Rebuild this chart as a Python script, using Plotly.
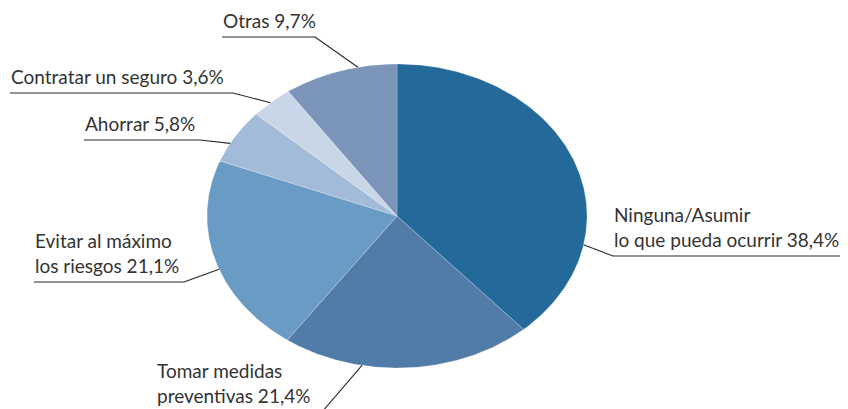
import numpy as np
import plotly.graph_objects as go

# data
categories = ["Ninguna/Asumir<br>lo que pueda ocurrir", "Tomar medidas<br>preventivas",
              "Evitar al máximo<br>los riesgos", "Ahorrar", "Contratar un seguro", "Otras"]
values = [38.4, 21.4, 21.1, 5.8, 3.6, 9.7]
colors = ["#236a9b", "#527ca8", "#6a9bc5", "#a2bbd8", "#c9d6e7", "#7b94b9"]

# layout of the ellipse (axis units = page pixels)
cx, cy, rx, ry = 397, 216, 190, 152

# label layout: underline start x, end x, y, side the leader leaves from, attach fraction in slice
label_pos = [
    (613, 849, 256, "left", 0.73),
    (156, 322, 412, "right", 0.68),
    (34, 184, 282, "right", 0.45),
    (84, 200, 140, "right", 0.35),
    (10, 233, 93, "right", 0.47),
    (222, 315, 37, "right", 0.66),
]


def pt(frac):
    a = 2 * np.pi * frac
    return cx + rx * np.sin(a), cy - ry * np.cos(a)


fig = go.Figure()
total = sum(values)
start = 0.0
for cat, val, col in zip(categories, values, colors):
    end = start + val / total
    t = np.linspace(start, end, 200)
    xs, ys = pt(t)
    fig.add_trace(go.Scatter(
        x=np.concatenate([[cx], xs, [cx]]), y=np.concatenate([[cy], ys, [cy]]),
        fill="toself", fillcolor=col, mode="lines",
        line=dict(color="rgba(255,255,255,0.35)", width=0.6),
        hoverinfo="text", text=cat.replace("<br>", " "), showlegend=False))
    start = end

start = 0.0
for cat, val, (x0, x1, uy, side, af) in zip(categories, values, label_pos):
    frac = start + af * val / total
    start += val / total
    ax, ay = pt(frac)
    ex = x0 if side == "left" else x1
    fig.add_trace(go.Scatter(
        x=[x0, x1, None, ex, ax], y=[uy, uy, None, uy, ay], mode="lines",
        line=dict(color="#2b2b2b", width=1.1), hoverinfo="skip", showlegend=False))
    txt = f"{cat} {val:.1f}%".replace(".", ",")
    # annotations outside the axis range are hidden, so keep the anchor inside it
    fig.add_annotation(x=x0 - 1, y=min(uy - 3, 409), xref="x", yref="y", text=txt,
                       showarrow=False, xanchor="left", yanchor="bottom", align="left",
                       font=dict(family="Lato", size=19, color="#333333"))

# the page body has an 8px margin, so the plot area starts at page pixel 8
fig.update_xaxes(range=[8, 848], visible=False, fixedrange=True)
fig.update_yaxes(range=[409, 8], visible=False, fixedrange=True)
fig.update_layout(width=840, height=401, margin=dict(l=0, r=0, t=0, b=0),
                  plot_bgcolor="white", paper_bgcolor="white")

fig.write_html("out.html")
